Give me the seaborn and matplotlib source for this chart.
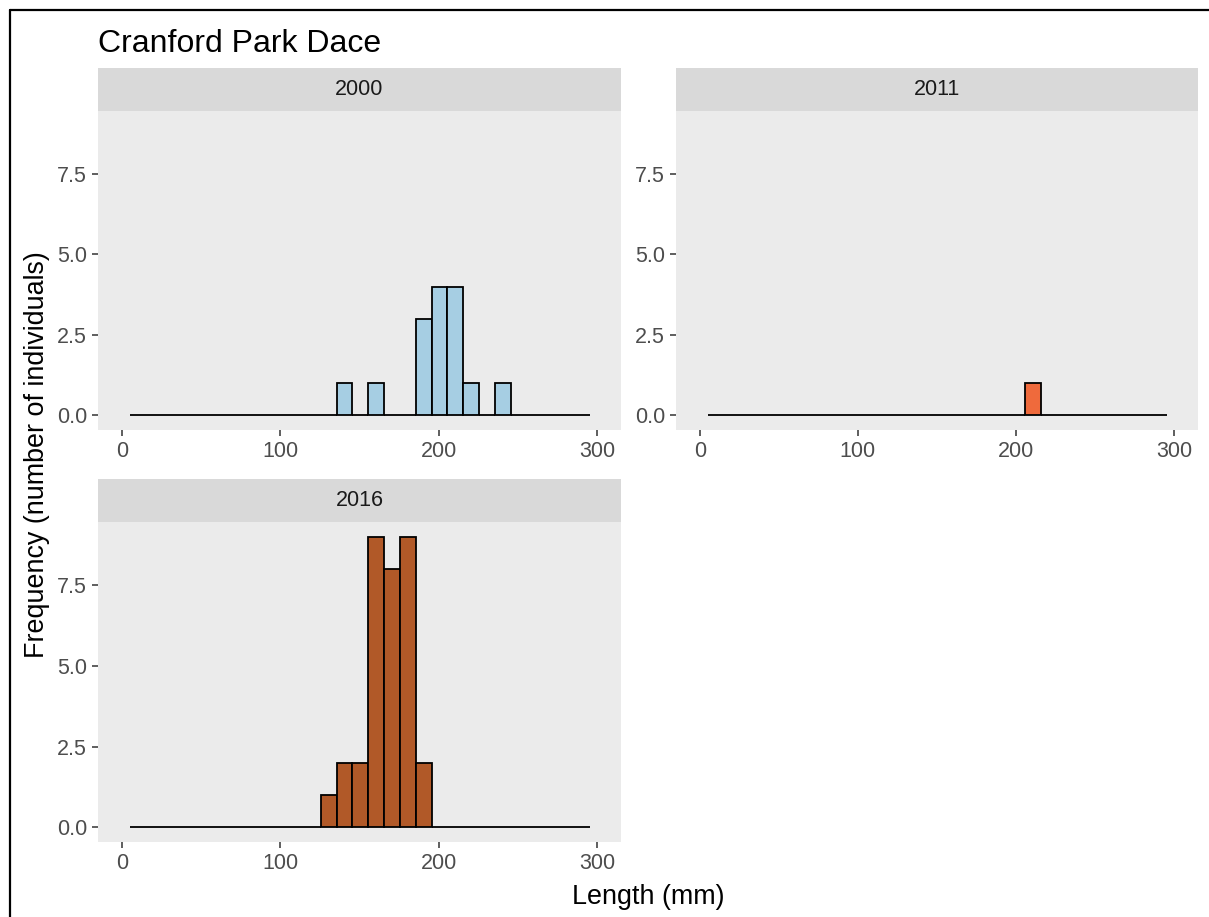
import numpy as np
import pandas as pd
import matplotlib
matplotlib.use("Agg")
import matplotlib.pyplot as plt
from matplotlib.lines import Line2D
import seaborn as sns

# lengths (mm, bin centres) and number of fish per bin, one set per survey year
years = ["2000", "2011", "2016"]
length_2000 = [140, 160, 190, 200, 210, 220, 240]
count_2000 = [1, 1, 3, 4, 4, 1, 1]
length_2011 = [210]
count_2011 = [1]
length_2016 = [130, 140, 150, 160, 170, 180, 190]
count_2016 = [1, 2, 2, 9, 8, 9, 2]
year_colors = ["#a6cee3", "#ef6a3c", "#b15928"]

bin_width = 10
bin_range = (5.5, 295.5)

df = pd.concat([
    pd.DataFrame({"year": "2000", "length": length_2000, "count": count_2000}),
    pd.DataFrame({"year": "2011", "length": length_2011, "count": count_2011}),
    pd.DataFrame({"year": "2016", "length": length_2016, "count": count_2016}),
])

sns.set_theme(style="white")
plt.rcParams["font.family"] = ["Liberation Sans", "DejaVu Sans"]

W, H = 1209, 917
fig = plt.figure(figsize=(W / 100, H / 100), dpi=100)

# panel boxes in pixels: left, top, right, bottom (strip sits above the top)
panels = {
    "2000": (98, 111, 621, 430),
    "2011": (676, 111, 1198, 430),
    "2016": (98, 522, 621, 842),
}
strip_h = 43

for year, color in zip(years, year_colors):
    l, t, r, b = panels[year]
    ax = fig.add_axes([l / W, 1 - b / H, (r - l) / W, (b - t) / H])
    ax.set_facecolor("#ebebeb")
    sns.histplot(data=df[df["year"] == year], x="length", weights="count",
                 binwidth=bin_width, binrange=bin_range, color=color,
                 edgecolor="black", linewidth=1.3, alpha=1, ax=ax)
    ax.set_xlim(-15, 315)
    ax.set_ylim(-0.45, 9.45)
    ax.set_xticks([0, 100, 200, 300])
    ax.set_yticks([0, 2.5, 5, 7.5])
    ax.set_yticklabels(["0.0", "2.5", "5.0", "7.5"])
    ax.set_xlabel("")
    ax.set_ylabel("")
    for s in ax.spines.values():
        s.set_visible(False)
    ax.grid(False)
    ax.tick_params(axis="both", which="both", length=4.5, width=1.1,
                   color="#333333", labelcolor="#4d4d4d", labelsize=15.5,
                   pad=3.5, bottom=True, left=True)

    # facet strip
    sax = fig.add_axes([l / W, 1 - t / H, (r - l) / W, strip_h / H])
    sax.set_facecolor("#d9d9d9")
    sax.set_xticks([])
    sax.set_yticks([])
    for s in sax.spines.values():
        s.set_visible(False)
    sax.text(0.5, 0.5, year, ha="center", va="center", fontsize=15.5,
             color="#1a1a1a", transform=sax.transAxes)

fig.text(98 / W, 1 - 52 / H, "Cranford Park Dace", fontsize=23,
         color="black", ha="left", va="baseline")
fig.text(648 / W, 1 - 897 / H, "Length (mm)", fontsize=19.4,
         color="black", ha="center", va="center")
fig.text(37 / W, 1 - 455 / H, "Frequency (number of individuals)",
         fontsize=19.4, color="black", ha="center", va="center", rotation=90)

# screenshot border along the top and left edges
fig.add_artist(Line2D([10 / W, 10 / W], [0, 1 - 10 / H], color="black",
                      linewidth=1.6, transform=fig.transFigure))
fig.add_artist(Line2D([10 / W, 1], [1 - 10 / H, 1 - 10 / H], color="black",
                      linewidth=1.6, transform=fig.transFigure))

fig.savefig("out.png", dpi=100, facecolor="white")
